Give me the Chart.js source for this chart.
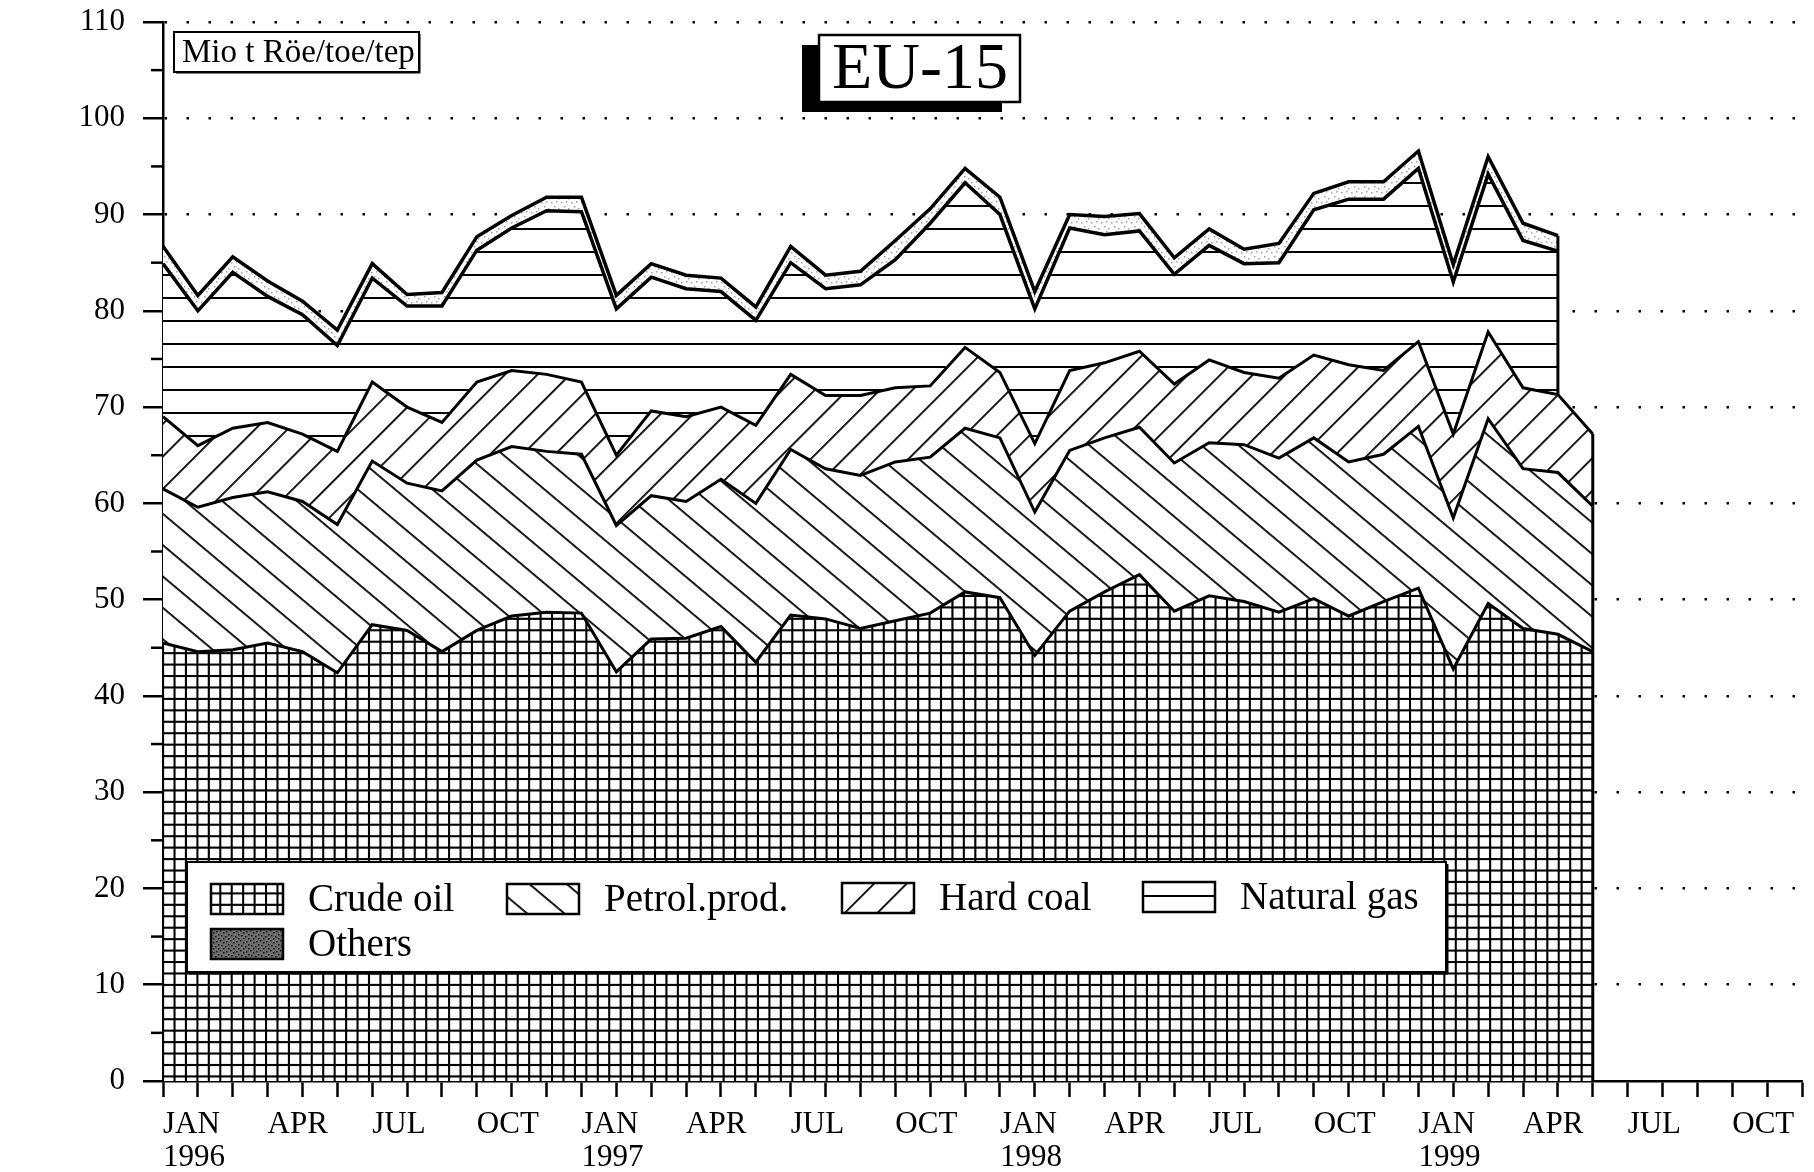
<!DOCTYPE html>
<html>
<head>
<meta charset="utf-8">
<script src="https://cdn.jsdelivr.net/npm/chart.js@4.4.1/dist/chart.umd.min.js"></script>
<style>
  html, body { margin: 0; padding: 0; background: #fff; }
</style>
</head>
<body>
<canvas id="chart" width="1814" height="1172"></canvas>
<script>
const months = [
  "1996-01", "1996-02", "1996-03", "1996-04", "1996-05", "1996-06", "1996-07", "1996-08", "1996-09", "1996-10", "1996-11", "1996-12",
  "1997-01", "1997-02", "1997-03", "1997-04", "1997-05", "1997-06", "1997-07", "1997-08", "1997-09", "1997-10", "1997-11", "1997-12",
  "1998-01", "1998-02", "1998-03", "1998-04", "1998-05", "1998-06", "1998-07", "1998-08", "1998-09", "1998-10", "1998-11", "1998-12",
  "1999-01", "1999-02", "1999-03", "1999-04", "1999-05", "1999-06", "1999-07", "1999-08", "1999-09", "1999-10", "1999-11", "1999-12",
];

const tickLabels = [
  ["JAN", "1996"], "", "", "APR", "", "", "JUL", "", "", "OCT", "", "",
  ["JAN", "1997"], "", "", "APR", "", "", "JUL", "", "", "OCT", "", "",
  ["JAN", "1998"], "", "", "APR", "", "", "JUL", "", "", "OCT", "", "",
  ["JAN", "1999"], "", "", "APR", "", "", "JUL", "", "", "OCT", "", "",
];

// Mio t Röe/toe/tep, one value per month
const crudeOil = [
  45.5, 44.6, 44.8, 45.5, 44.6, 42.4, 47.4, 46.8, 44.6, 46.8, 48.3, 48.7,
  48.6, 42.5, 45.9, 46.0, 47.2, 43.5, 48.4, 48.0, 47.0, 47.8, 48.6, 50.8,
  50.2, 44.2, 48.8, 50.8, 52.6, 48.8, 50.4, 49.8, 48.7, 50.1, 48.3, 49.8,
  51.2, 42.8, 49.6, 47.0, 46.4, 44.6,
];
const petrolProd = [
  16.0, 15.0, 15.8, 15.7, 15.6, 15.4, 17.0, 15.3, 16.7, 17.7, 17.6, 16.7,
  16.5, 15.2, 14.9, 14.2, 15.3, 16.5, 17.2, 15.6, 15.9, 16.5, 16.2, 17.0,
  16.6, 14.9, 16.7, 16.0, 15.3, 15.4, 15.9, 16.3, 16.0, 16.7, 16.0, 15.3,
  16.8, 15.7, 19.2, 16.6, 16.8, 15.1,
];
const hardCoal = [
  7.5, 6.4, 7.2, 7.2, 7.0, 7.6, 8.2, 7.9, 7.1, 8.1, 7.9, 8.0,
  7.5, 7.3, 8.8, 8.8, 7.5, 8.1, 7.8, 7.6, 8.3, 7.7, 7.4, 8.4,
  6.8, 7.1, 8.3, 7.8, 7.9, 8.2, 8.6, 7.5, 8.3, 8.6, 10.1, 8.7,
  8.8, 8.7, 9.0, 8.4, 8.1, 7.5,
];
const naturalGas = [
  15.9, 14.0, 16.2, 13.1, 12.4, 11.0, 10.8, 10.5, 12.1, 13.7, 14.8, 17.0,
  17.7, 15.2, 13.9, 13.3, 12.0, 10.9, 11.6, 11.1, 11.5, 13.3, 16.9, 17.1,
  16.4, 14.0, 14.8, 13.3, 12.5, 11.4, 11.9, 11.3, 12.0, 15.1, 17.2, 17.8,
  18.0, 15.8, 16.4, 15.3, 14.9,
];
const others = [
  1.8, 1.6, 1.6, 1.6, 1.4, 1.6, 1.5, 1.2, 1.4, 1.4, 1.3, 1.4,
  1.5, 1.4, 1.4, 1.4, 1.4, 1.4, 1.7, 1.4, 1.4, 2.0, 1.5, 1.5,
  1.8, 1.8, 1.4, 1.9, 1.8, 1.7, 1.7, 1.5, 2.0, 1.7, 1.8, 1.8,
  1.8, 1.8, 1.8, 1.8, 1.6,
];

const seriesNames = ["Crude oil", "Petrol.prod.", "Hard coal", "Natural gas", "Others"];

const canvas = document.getElementById("chart");
const ctx = canvas.getContext("2d");
const SERIF = "'Liberation Serif', 'DejaVu Serif', serif";

function makeTile(w, h, draw) {
  const c = document.createElement("canvas");
  c.width = w;
  c.height = h;
  const g = c.getContext("2d");
  g.fillStyle = "#fff";
  g.fillRect(0, 0, w, h);
  draw(g);
  return c;
}

function linePattern(spacing, width, angle, offsetY) {
  const tile = makeTile(16, spacing, (g) => {
    g.fillStyle = "#000";
    g.fillRect(0, 0, 16, width);
  });
  const p = ctx.createPattern(tile, "repeat");
  p.setTransform(new DOMMatrix().translate(0, offsetY || 0).rotate(angle));
  return p;
}

function gridPattern(size, width) {
  const tile = makeTile(size, size, (g) => {
    g.fillStyle = "#000";
    g.fillRect(0, 0, size, width);
    g.fillRect(0, 0, width, size);
  });
  const p = ctx.createPattern(tile, "repeat");
  p.setTransform(new DOMMatrix().translate(162, 0).scale(1.04));
  return p;
}

function stipplePattern(bg, color, dots) {
  const tile = makeTile(10, 10, (g) => {
    g.fillStyle = bg;
    g.fillRect(0, 0, 10, 10);
    g.fillStyle = color;
    dots.forEach(([x, y]) => g.fillRect(x, y, 1.5, 1.5));
  });
  return ctx.createPattern(tile, "repeat");
}

const fills = [
  gridPattern(11, 2),
  linePattern(24, 1.8, 40, 0),
  linePattern(23, 1.8, -45, 0),
  linePattern(23, 2, 0, 21),
  stipplePattern("#fff", "#a0a0a0", [[1, 2], [6, 1], [4, 6], [8, 8]]),
];
const othersSwatch = stipplePattern("#6e6e6e", "#111", [[0, 0], [3, 2], [6, 1], [1, 5], [5, 6], [8, 4], [3, 8], [8, 8]]);

const seriesData = [crudeOil, petrolProd, hardCoal, naturalGas, others];

const decorations = {
  id: "decorations",
  afterDatasetsDraw(chart) {
    const { chartArea } = chart;
    const c = chart.ctx;
    c.save();
    c.strokeStyle = "#000";
    c.lineWidth = 3;
    // closing vertical edges where the series stop
    chart.data.datasets.forEach((ds, d) => {
      const last = ds.data.length - 1;
      const pt = chart.getDatasetMeta(d).data[last];
      const below = d === 0 ? chartArea.bottom : chart.getDatasetMeta(d - 1).data[last].y;
      c.beginPath();
      c.moveTo(pt.x, pt.y);
      c.lineTo(pt.x, below);
      c.stroke();
    });
    c.restore();
  },
  afterDraw(chart) {
    const c = chart.ctx;
    const y = chart.scales.y;
    c.save();

    // minor ticks on the value axis
    c.strokeStyle = "#000";
    c.lineWidth = 2.5;
    for (let v = 5; v < 110; v += 10) {
      const py = y.getPixelForValue(v);
      c.beginPath();
      c.moveTo(y.right - 12, py);
      c.lineTo(y.right, py);
      c.stroke();
    }

    // unit box
    c.fillStyle = "#fff";
    c.fillRect(174, 32, 245, 40);
    c.lineWidth = 2;
    c.strokeRect(174, 32, 245, 40);
    c.fillStyle = "#000";
    c.fillRect(418, 34, 2.5, 39);
    c.fillRect(176, 71, 244, 2.5);
    c.font = "33px " + SERIF;
    c.textBaseline = "middle";
    c.textAlign = "left";
    c.fillText("Mio t Röe/toe/tep", 182, 53);

    // EU-15 title box with drop shadow
    c.fillStyle = "#000";
    c.fillRect(802, 45, 200, 67);
    c.fillStyle = "#fff";
    c.fillRect(819, 35, 201, 67);
    c.lineWidth = 2.5;
    c.strokeRect(819, 35, 201, 67);
    c.fillStyle = "#000";
    c.font = "66px " + SERIF;
    c.textAlign = "center";
    c.fillText("EU-15", 920, 71);

    // legend box
    const box = { x: 187, y: 862, w: 1259, h: 110 };
    c.fillStyle = "#fff";
    c.fillRect(box.x, box.y, box.w, box.h);
    c.lineWidth = 2;
    c.strokeRect(box.x, box.y, box.w, box.h);
    c.fillStyle = "#000";
    c.fillRect(box.x + box.w, box.y + 2, 2.5, box.h);
    c.fillRect(box.x + 2, box.y + box.h, box.w, 2.5);

    const slots = [[211, 884], [507, 884], [842, 883], [1143, 882], [211, 929]];
    c.font = "39px " + SERIF;
    c.textAlign = "left";
    chart.data.datasets.forEach((ds, i) => {
      const [sx, sy] = slots[i];
      c.fillStyle = i === 4 ? othersSwatch : ds.backgroundColor;
      c.fillRect(sx, sy, 72, 30);
      c.lineWidth = 2.5;
      c.strokeStyle = "#000";
      c.strokeRect(sx, sy, 72, 30);
      c.fillStyle = "#000";
      c.fillText(ds.label, sx + 97, sy + 17);
    });
    c.restore();
  },
};

new Chart(ctx, {
  type: "line",
  data: {
    labels: months,
    datasets: seriesData.map((values, i) => ({
      label: seriesNames[i],
      data: values,
      backgroundColor: fills[i],
      borderColor: "#000",
      borderWidth: i >= 3 ? 3.5 : 3,
      fill: i === 0 ? "origin" : "-1",
      pointRadius: 0,
      tension: 0,
      borderJoinStyle: "miter",
    })),
  },
  options: {
    responsive: false,
    animation: false,
    devicePixelRatio: 1,
    layout: { padding: { top: 22, right: 2, left: 0, bottom: 0 } },
    plugins: {
      legend: { display: false },
      tooltip: { enabled: false },
    },
    scales: {
      x: {
        grid: { drawOnChartArea: false, drawTicks: true, tickLength: 16, tickWidth: 2.5, tickColor: "#000" },
        border: { display: true, color: "#000", width: 2.5 },
        ticks: {
          autoSkip: false,
          maxRotation: 0,
          minRotation: 0,
          align: "start",
          padding: 12,
          color: "#000",
          font: { family: SERIF, size: 31, lineHeight: 1.05 },
          callback: (value, index) => tickLabels[index],
        },
        afterFit: (scale) => { scale.height = 91; },
      },
      y: {
        stacked: true,
        min: 0,
        max: 110,
        ticks: {
          stepSize: 10,
          padding: 18,
          color: "#000",
          font: { family: SERIF, size: 31 },
        },
        grid: {
          color: (c) => (c.tick && c.tick.value === 0 ? "rgba(0,0,0,0)" : "#000"),
          lineWidth: 2.5,
          tickLength: 20,
          tickWidth: 2.5,
          tickColor: "#000",
        },
        border: { display: true, color: "#000", width: 2.5, dash: [2.5, 19.5] },
        afterFit: (scale) => {
          scale.width = 163;
          scale.paddingTop = 0;
          scale.paddingBottom = 0;
        },
      },
    },
  },
  plugins: [decorations],
});
</script>
</body>
</html>
